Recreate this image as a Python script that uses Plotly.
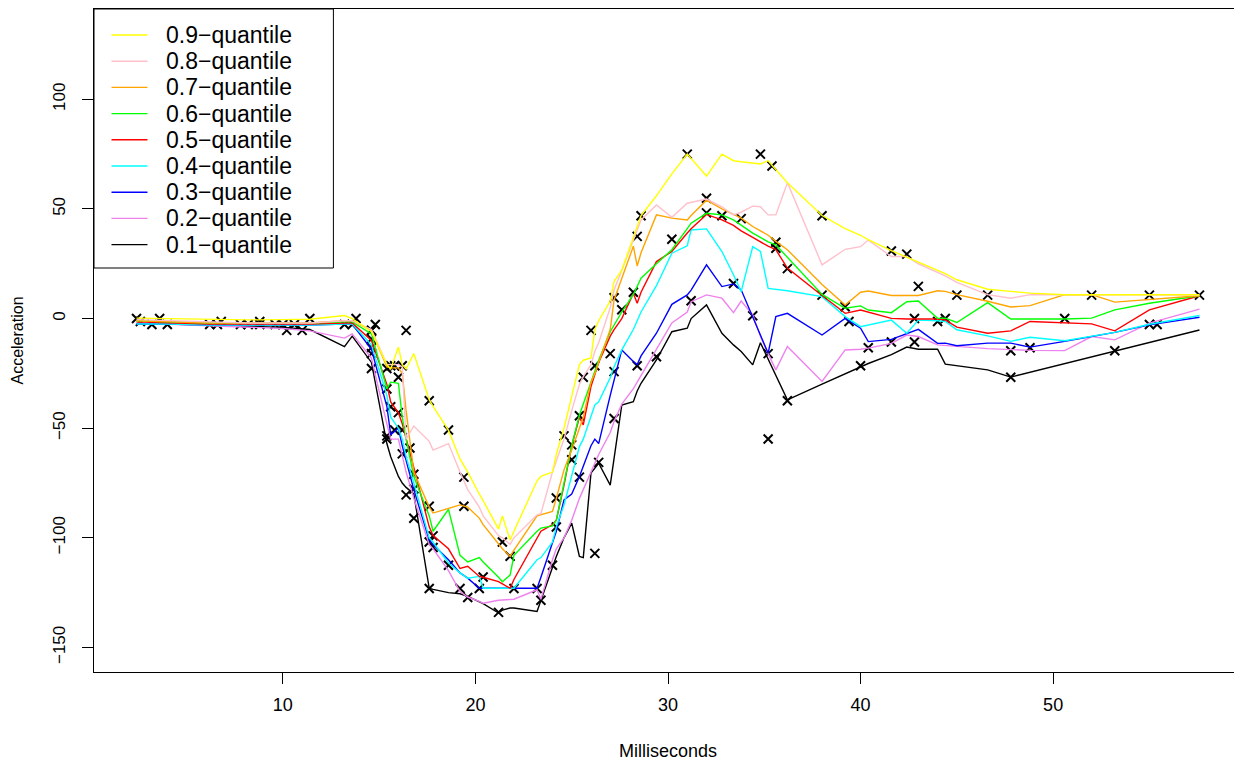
import plotly.graph_objects as go

# ---------------- data: observations (milliseconds, acceleration) ----------------
times = [2.4, 2.6, 3.2, 3.6, 4.0, 6.2, 6.6, 6.8, 7.8, 8.2,
         8.8, 8.8, 9.6, 10.0, 10.2, 10.6, 11.0, 11.4, 13.2, 13.6,
         13.8, 14.6, 14.6, 14.6, 14.6, 14.6, 14.6, 14.8, 15.4, 15.4,
         15.4, 15.4, 15.6, 15.6, 15.8, 15.8, 16.0, 16.0, 16.2, 16.2,
         16.2, 16.4, 16.4, 16.6, 16.8, 16.8, 16.8, 17.6, 17.6, 17.6,
         17.6, 17.8, 17.8, 18.6, 18.6, 19.2, 19.4, 19.4, 19.6, 20.2,
         20.4, 21.2, 21.4, 21.8, 22.0, 23.2, 23.4, 24.0, 24.2, 24.2,
         24.6, 25.0, 25.0, 25.4, 25.4, 25.6, 26.0, 26.2, 26.2, 26.4,
         27.0, 27.2, 27.2, 27.2, 27.6, 28.2, 28.4, 28.4, 28.6, 29.4,
         30.2, 31.0, 31.2, 32.0, 32.0, 32.8, 33.4, 33.8, 34.4, 34.8,
         35.2, 35.2, 35.4, 35.6, 35.6, 36.2, 36.2, 38.0, 38.0, 39.2,
         39.4, 40.0, 40.4, 41.6, 41.6, 42.4, 42.8, 42.8, 43.0, 44.0,
         44.4, 45.0, 46.6, 47.8, 47.8, 48.8, 50.6, 52.0, 53.2, 55.0,
         55.0, 55.4, 57.6]
accel = [0.0, -1.3, -2.7, 0.0, -2.7, -2.7, -2.7, -1.3, -2.7, -2.7,
         -1.3, -2.7, -2.7, -2.7, -5.4, -2.7, -5.4, 0.0, -2.7, -2.7,
         0.0, -13.3, -5.4, -5.4, -9.3, -16.0, -22.8, -2.7, -22.8, -32.1,
         -53.5, -54.9, -40.2, -21.5, -21.5, -50.8, -42.9, -26.8, -21.5, -50.8,
         -61.7, -5.4, -80.4, -59.0, -71.0, -91.1, -77.7, -37.5, -85.6, -123.1,
         -101.9, -99.1, -104.4, -112.5, -50.8, -123.1, -85.6, -72.3, -127.2, -123.1,
         -117.9, -134.0, -101.9, -108.4, -123.1, -123.1, -128.5, -112.5, -95.1, -81.8,
         -53.5, -64.4, -57.6, -72.3, -44.3, -26.8, -5.4, -107.1, -21.5, -65.6,
         -16.0, -45.6, -24.2, 9.5, 4.0, 12.0, -21.5, 37.5, 46.9, -17.4,
         36.2, 75.0, 8.1, 54.9, 48.2, 46.9, 16.0, 45.6, 1.3, 75.0,
         -16.0, -54.9, 69.6, 34.8, 32.1, -37.5, 22.8, 46.9, 10.7, 5.4,
         -1.3, -21.5, -13.3, 30.8, -10.7, 29.4, 0.0, -10.7, 14.7, -1.3,
         0.0, 10.7, 10.7, -26.8, -14.7, -13.3, 0.0, 10.7, -14.7, -2.7,
         10.7, -2.7, 10.7]

# ---------------- data: estimated quantile curves ----------------
grid = [2.4, 4.0, 6.2, 8.2, 10.0, 11.4, 13.2, 13.6, 14.6, 15.4,
        15.6, 16.0, 16.2, 16.4, 16.8, 17.6, 17.8, 18.6, 19.2, 19.6,
        20.2, 20.4, 21.2, 21.4, 21.8, 22.0, 23.2, 23.4, 24.0, 24.2,
        24.6, 25.0, 25.4, 25.6, 26.0, 26.2, 26.4, 27.0, 27.2, 27.6,
        28.2, 28.4, 28.6, 29.4, 30.2, 31.0, 31.2, 32.0, 32.8, 33.4,
        33.8, 34.4, 34.8, 35.2, 35.6, 36.2, 38.0, 39.2, 40.0, 40.4,
        41.6, 42.4, 43.0, 44.0, 44.4, 45.0, 46.6, 47.8, 48.8, 50.6,
        52.0, 53.2, 55.0, 57.6]

q90 = [0.2, 0, -0.5, -0.6, -0.5, -0.3, 1.4, 0, -6, -21,
       -23, -13, -21, -23, -16, -37, -40, -51, -64, -70,
       -80, -83, -96, -90, -101, -97, -74, -72, -70, -62,
       -50, -36, -21, -19, -18, -5, -1, 8, 17, 22,
       37, 42, 47, 56, 66, 75, 73, 65, 75, 72,
       71.5, 71, 70.5, 72, 68, 62, 47, 41, 38, 36,
       31, 28, 25.5, 22, 20.5, 17.7, 13.4, 12.4, 11.6, 10.9,
       10.9, 10.9, 10.9, 10.9]
q80 = [-0.5, -1, -1.5, -2, -2, -2, -1, -1, -5, -21,
       -21, -21, -22, -55, -49, -56, -60, -57, -70, -78,
       -86, -90, -99, -100, -103, -100, -89.5, -89, -70, -65,
       -55, -42, -30, -26.5, -21, -15, -11, 5, 13, 22,
       36, 40, 45, 51.8, 46.2, 52.6, 53, 54.5, 51, 47.3,
       48.5, 51.3, 51, 47.3, 47.3, 62, 24.5, 31.6, 32.8, 35.8,
       28.3, 28.3, 25, 21, 19.5, 16.5, 10.9, 9.3, 10.9, 10.9,
       10.9, 10.9, 10.9, 10.7]
q70 = [-1, -1.5, -2, -2, -2, -2, -1, -1, -5.5, -22,
       -22.5, -22.5, -25, -42, -70, -86, -88.7, -86.5, -85, -86,
       -91, -94, -103, -105, -108.5, -105.6, -90, -89.5, -88, -82,
       -69, -60, -50, -45, -29, -25, -20, -5, 8.5, 18,
       33, 24, 30, 47.3, 45.8, 45, 47, 54, 50, 47.5,
       45.8, 42, 40, 38, 35.2, 31.4, 15.5, 6.2, 12, 12.6,
       10.5, 10.5, 10.5, 12.7, 12.4, 10.9, 7.9, 5.3, 5.9, 10.9,
       10.9, 7.5, 8.8, 10.4]
q60 = [-1, -1.5, -2, -2, -2, -2, -1.5, -1.5, -7, -32,
       -29, -29.5, -45, -55, -72, -90, -97, -87, -108, -111,
       -109, -111, -118, -120, -117, -108, -97, -95.6, -94.6, -92,
       -75, -58, -44, -39, -29, -24, -19, -6, -3, 3,
       11, 15, 18.4, 25, 31.4, 41, 43.5, 48, 47.3, 45,
       42.5, 39, 37, 35, 33.6, 28, 11, 4.7, 5.8, 3.9,
       2.7, 7.7, 8, 0.1, 0.2, -1.8, 7.3, -0.2, -0.2, -0.2,
       0.2, 4, 7, 10.4]
q50 = [-1.5, -2, -2.5, -2.5, -2.5, -2.5, -2, -2, -10, -30,
       -38, -43, -48, -55, -68, -95, -99, -105, -114, -113,
       -117.6, -118, -120, -121, -123, -119, -100, -97, -94, -92,
       -76, -58, -45, -48.5, -31, -25, -20, -8, -5, 0,
       11.5, 7, 12, 26, 30.6, 39, 41, 47.5, 45, 42.5,
       40, 37, 35, 33, 31.4, 23, 10.5, 2.4, 3.9, 3,
       0.1, -0.2, -0.2, -0.2, -0.6, -3.9, -6.7, -5.6, -1.3, -1.8,
       -2.4, -5.6, 4, 10.4]
q40 = [-2.5, -2.5, -3, -3, -3, -3, -2.5, -2.5, -12, -35,
       -45, -50, -55, -63, -75, -100, -102, -111.5, -116, -118.4,
       -117.6, -123, -123, -123, -123, -123, -110, -109, -102, -95,
       -85, -72, -58.4, -55, -44, -39.4, -38, -27, -22, -14.3,
       -5, -1, 3, 15, 29.8, 33.2, 40.4, 40.9, 30.6, 20,
       12.3, 32.8, 30.6, 13.8, 13.3, 12.7, 10, 0.9, -3.7, -3,
       -0.7, -6.7, -0.7, -1, -1.3, -5.1, -7.9, -10.4, -8.5, -10.1,
       -8.2, -6.3, -2.6, 1.4]
q30 = [-2.5, -2.5, -3, -3, -3, -3, -2.5, -2.5, -14, -40,
       -53, -50, -58, -65, -78, -101, -103, -110, -116, -118.4,
       -123, -123, -123, -123, -123, -123, -123, -118, -102.4, -97,
       -82.7, -80, -72, -67, -58, -55, -57, -35, -28, -14.3,
       -19.6, -21, -17, -6.7, 6.5, 10.8, 13, 24.5, 14.6, 15.8,
       13.1, 0.7, -7.6, -15.8, 0.9, 2.4, -7.5, 0.1, -4.4, -10.5,
       -9.5, -7, -4.9, -11.3, -11.2, -12.4, -11.2, -11.2, -13, -10.4,
       -8.2, -6.3, -2.9, 0.6]
q20 = [-2, -2.5, -3, -3.6, -4.5, -5.6, -8.9, -7, -18, -48,
       -55, -55, -62, -70, -82, -103, -105, -115, -124.5, -127,
       -129, -129.8, -128.5, -128.3, -128, -128, -123.7, -128, -110, -105,
       -100, -92, -82, -78, -70, -66, -62, -52, -47, -39,
       -32, -29, -26, -14, -2, 3, 7.7, 10.8, 9.3, 2.7,
       8, 1.7, -8, -16, -23.4, -12.7, -28.7, -14.3, -14, -13.5,
       -11.3, -7.5, -8.2, -12, -12.4, -12.7, -13.7, -14.3, -14.5, -14.6,
       -8.2, -9.7, -2.1, 4.3]
q10 = [-2.5, -2.5, -3, -3.5, -4, -5, -12.8, -8, -20, -57,
       -63, -72, -75, -77, -80, -123, -123.5, -125, -125.5, -126.7,
       -129, -130, -134.3, -133, -132, -132, -133.6, -128.5, -113, -108.5,
       -100, -93.3, -108.5, -109, -70.5, -68, -66, -76, -64, -39.4,
       -37.9, -33, -29.5, -18.9, -6, -4.4, 0, 6.2, -6.7, -12,
       -15, -21.1, -11, -18.5, -26, -37.1, -29.9, -25.1, -21.9, -20.5,
       -16.4, -13, -14, -14, -20.8, -21.5, -23.4, -26.7, -24.5, -20.4,
       -17.2, -14.6, -10.8, -5.2]

labels = ["0.1\u2212quantile", "0.2\u2212quantile", "0.3\u2212quantile",
          "0.4\u2212quantile", "0.5\u2212quantile", "0.6\u2212quantile",
          "0.7\u2212quantile", "0.8\u2212quantile", "0.9\u2212quantile"]
series = [q10, q20, q30, q40, q50, q60, q70, q80, q90]
colors = ["#000000", "#EE82EE", "#0000FF", "#00FFFF", "#FF0000",
          "#00FF00", "#FFA500", "#FFC0CB", "#FFFF00"]

x_ticks = [10, 20, 30, 40, 50]
y_ticks = [-150, -100, -50, 0, 50, 100]

# ---------------- layout constants ----------------
# the page body adds an 8px offset, so the figure is sized/positioned to compensate
OFF = 8
W, H = 1242 - OFF, 761 - OFF
ML, MT = 93.5 - OFF, 9 - OFF
PLOT_RIGHT, PLOT_BOTTOM = 1242 - OFF, 672 - OFF
MR, MB = W - PLOT_RIGHT, H - PLOT_BOTTOM
PW, PH = W - ML - MR, H - MT - MB
FONT = "Liberation Sans, Arial, Helvetica, sans-serif"

fig = go.Figure()

fig.add_trace(go.Scatter(
    x=times, y=accel, mode="markers", showlegend=False,
    marker=dict(symbol="x-thin-open", size=9, color="black",
                line=dict(color="black", width=2)),
    hoverinfo="x+y"))

for ys, lab, col in zip(series, labels, colors):
    fig.add_trace(go.Scatter(x=grid, y=ys, mode="lines", name=lab,
                             showlegend=False,
                             line=dict(color=col, width=1.4)))

# ---------------- manual legend (box, swatches, labels) ----------------
def px_to_paper_x(px):
    return (px - OFF - ML) / PW

def py_to_paper_y(py):
    return (MT + PH - (py - OFF)) / PH

leg_left, leg_right, leg_top, leg_bottom = 93.5, 333, 9, 268
row0, row_step = 35.0, 26.2
sw_x0, sw_x1, txt_x = 111, 147, 165

shapes = [dict(type="rect", xref="paper", yref="paper",
               x0=px_to_paper_x(leg_left), x1=px_to_paper_x(leg_right),
               y0=py_to_paper_y(leg_bottom), y1=py_to_paper_y(leg_top),
               line=dict(color="black", width=1), fillcolor="white",
               layer="above")]
annotations = []
legend_order = list(zip(labels, colors))[::-1]
for i, (lab, col) in enumerate(legend_order):
    yy = py_to_paper_y(row0 + i * row_step)
    shapes.append(dict(type="line", xref="paper", yref="paper",
                       x0=px_to_paper_x(sw_x0), x1=px_to_paper_x(sw_x1),
                       y0=yy, y1=yy, line=dict(color=col, width=1.4),
                       layer="above"))
    annotations.append(dict(xref="paper", yref="paper",
                            x=px_to_paper_x(txt_x), y=yy, text=lab,
                            showarrow=False, xanchor="left", yanchor="middle",
                            borderpad=0,
                            font=dict(family=FONT, size=23, color="black")))

fig.update_layout(
    width=W, height=H,
    margin=dict(l=ML, r=MR, t=MT, b=MB, pad=0, autoexpand=False),
    paper_bgcolor="white", plot_bgcolor="white",
    font=dict(family=FONT, color="black"),
    showlegend=False,
    shapes=shapes, annotations=annotations,
    xaxis=dict(range=[0.192, 59.808], tickvals=x_ticks,
               ticks="outside", ticklen=11, tickwidth=1, tickcolor="black",
               showline=True, mirror=True, linecolor="black", linewidth=1,
               showgrid=False, zeroline=False,
               tickfont=dict(size=18, family=FONT),
               ticklabelstandoff=5,
               title=dict(text="Milliseconds", font=dict(size=18, family=FONT),
                          standoff=31)),
    yaxis=dict(range=[-161.2, 141.2], tickvals=y_ticks,
               ticks="outside", ticklen=11, tickwidth=1, tickcolor="black",
               showline=True, mirror=True, linecolor="black", linewidth=1,
               showgrid=False, zeroline=False, tickangle=-90,
               tickfont=dict(size=17, family=FONT),
               ticklabelstandoff=10,
               title=dict(text="Acceleration", font=dict(size=16, family=FONT),
                          standoff=22)),
)

fig.write_html("out.html")
